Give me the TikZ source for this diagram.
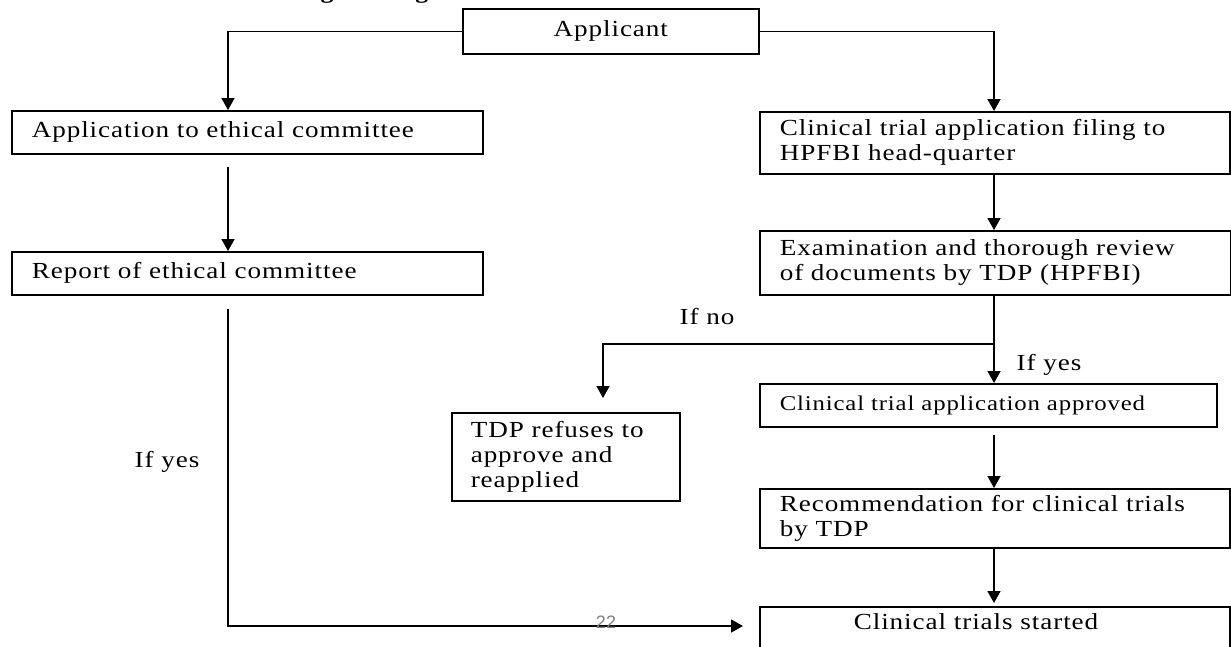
\documentclass[tikz,border=0pt]{standalone}
\usepackage{fontspec}
\setmainfont{Liberation Serif}[FakeStretch=1.18,LetterSpace=4]
\newfontfamily\pagenumfont{Liberation Sans}
\usetikzlibrary{arrows.meta}
\tikzset{
  box/.style={draw, line width=1.6pt, anchor=north west, align=left,
    inner xsep=20pt, inner ysep=0pt, font=\fontsize{23}{25}\selectfont},
  flow/.style={line width=1.6pt, -{Triangle[width=13pt,length=12pt]}},
  lbl/.style={font=\fontsize{23}{25}\selectfont}
}
\begin{document}
\begin{tikzpicture}[x=1pt,y=-1pt]
        \useasboundingbox (0,0) rectangle (1231,646);
        \clip (0,0) rectangle (1231,646);
        %title, cut by the page
        \node[anchor=base, font=\bfseries\fontsize{22}{24}\selectfont] (title) at (628,-2) {Fig. 6: Registration Process of Clinical Trials in Canada};
        %boxes
        \node[box, align=center, text width=256pt, minimum height=45pt] (applicant) at (462,8) {Applicant};
        \node[box, text width=431pt, minimum height=43pt] (ethics) at (11,110) {Application to ethical committee};
        \node[box, text width=431pt, minimum height=43pt] (report) at (11,251) {Report of ethical committee};
        \node[box, text width=430pt, minimum height=62pt] (filing) at (759,111) {Clinical trial application filing to\\HPFBI head-quarter};
        \node[box, text width=431pt, minimum height=64pt] (review) at (759,230) {Examination and thorough review\\of documents by TDP (HPFBI)};
        \node[box, inner xsep=19pt, text width=190pt, minimum height=88pt] (refuse) at (451,412) {TDP refuses to\\approve and\\reapplied};
        \node[box, text width=417pt, minimum height=43pt, font=\fontsize{21}{24}\selectfont] (approved) at (759,383) {Clinical trial application approved};
        \node[box, text width=430pt, minimum height=59pt] (recommend) at (759,488) {Recommendation for clinical trials\\by TDP};
        \node[box, inner xsep=94pt, text width=282pt, text height=23pt, text depth=27pt] (started) at (759,606) {Clinical trials started};
        %columns
        \coordinate (lcol) at (228,0);
        \coordinate (rcol) at (994,0);
        \coordinate (nobranch) at (603,344);
        \coordinate (lbot) at (228,626);
        %connectors
        \draw[flow] (applicant.west) -| (lcol |- ethics.north);
        \draw[flow] (applicant.east) -| (rcol |- filing.north);
        \draw[flow, shorten <=12pt] (lcol |- ethics.south) -- (lcol |- report.north);
        \draw[flow] (rcol |- filing.south) -- (rcol |- review.north);
        \draw[flow] (rcol |- review.south) -- (rcol |- approved.north);
        \draw[flow, shorten >=14pt] (rcol |- nobranch) -| (nobranch |- refuse.north);
        \draw[flow, shorten <=7pt] (rcol |- approved.south) -- (rcol |- recommend.north);
        \draw[flow, shorten >=3pt] (rcol |- recommend.south) -- (rcol |- started.north);
        \draw[flow, shorten <=13pt, shorten >=16pt] (lcol |- report.south) |- (lbot -| started.west);
        %labels
        \node[lbl] (ifno) at (707,317) {If no};
        \node[lbl] (ifyesr) at (1049,365) {If yes};
        \node[lbl] (ifyesl) at (167,462) {If yes};
        \node[font=\pagenumfont\fontsize{18}{20}\selectfont, text=black!50] (pagenum) at (606,622) {22};
    \end{tikzpicture}
\end{document}
